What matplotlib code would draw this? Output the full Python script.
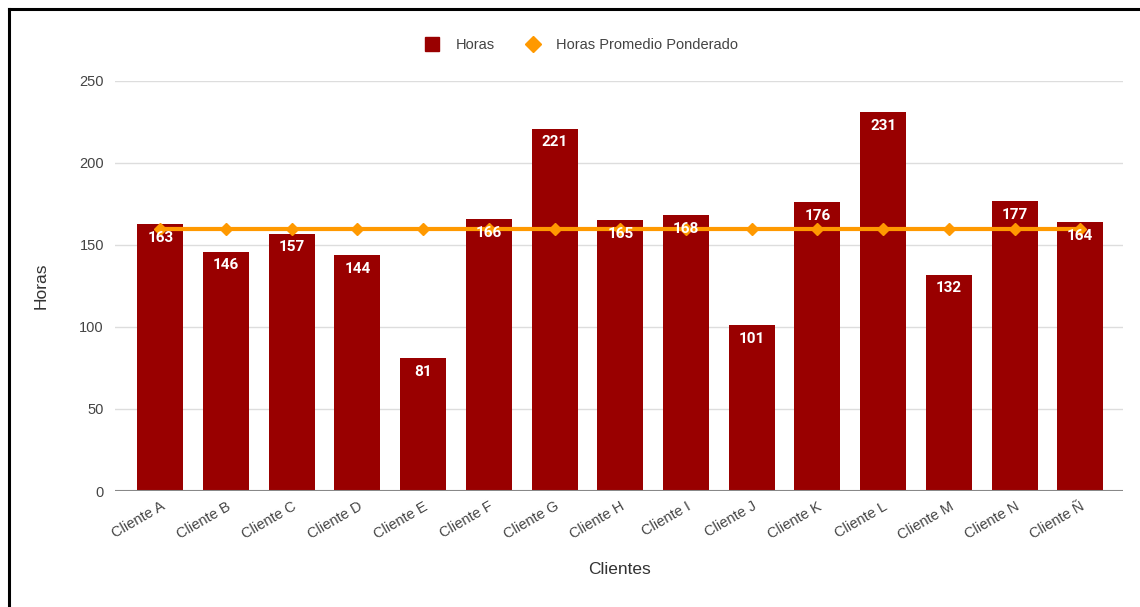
import numpy as np
import matplotlib.pyplot as plt
from matplotlib.lines import Line2D

plt.rcParams['font.family'] = ['Liberation Sans', 'DejaVu Sans']

# Datos
clientes = ['Cliente A', 'Cliente B', 'Cliente C', 'Cliente D', 'Cliente E',
            'Cliente F', 'Cliente G', 'Cliente H', 'Cliente I', 'Cliente J',
            'Cliente K', 'Cliente L', 'Cliente M', 'Cliente N', 'Cliente Ñ']
horas = [163, 146, 157, 144, 81, 166, 221, 165, 168, 101, 176, 231, 132, 177, 164]
promedio = [160] * len(clientes)
y_ticks = [0, 50, 100, 150, 200, 250]

bar_color = '#990000'
line_color = '#ff9900'
text_color = '#444444'

fig = plt.figure(figsize=(11.4, 6.07), dpi=100)
ax = fig.add_axes([0.1009, 0.1911, 0.8842, 0.6755])

x = np.arange(len(clientes))
ax.bar(x, horas, width=0.70, color=bar_color, zorder=2, label='Horas')
ax.plot(x, promedio, color=line_color, linewidth=3, marker='D', markersize=6,
        zorder=3, label='Horas Promedio Ponderado')

for xi, h in zip(x, horas):
    ax.annotate(str(h), (xi, h), xytext=(0, -10), textcoords='offset points',
                ha='center', va='center', color='white', fontsize=11,
                fontweight='bold', family=['Roboto', 'DejaVu Sans'], zorder=4)

ax.set_xlim(-0.69, 14.65)
ax.set_ylim(0, 250)
ax.set_yticks(y_ticks)
ax.set_xticks(x)
ax.set_xticklabels(clientes, rotation=30, ha='right', rotation_mode='anchor',
                   fontsize=10.5, color=text_color)
ax.tick_params(axis='y', labelsize=10.5, labelcolor=text_color, length=0, pad=8)
ax.tick_params(axis='x', length=0, pad=6)

ax.grid(axis='y', color='#dddddd', linewidth=1, zorder=0)
for s in ax.spines.values():
    s.set_visible(False)
ax.axhline(0, color='#888888', linewidth=1.5, zorder=3)

ax.set_ylabel('Horas', fontsize=12.5, color='#333333', labelpad=22)
ax.set_xlabel('Clientes', fontsize=12.5, color='#333333', labelpad=14)

handles = [Line2D([], [], marker='s', color=bar_color, linestyle='none', markersize=10),
           Line2D([], [], marker='D', color=line_color, linestyle='none', markersize=8)]
fig.legend(handles, ['Horas', 'Horas Promedio Ponderado'], loc='center',
           bbox_to_anchor=(0.507, 0.926), ncol=2, frameon=False, fontsize=10.5,
           handletextpad=0.6, columnspacing=1.6, labelcolor=text_color)

# Borde negro de la captura
fig.add_artist(Line2D([9 / 1140, 9 / 1140], [0, 1 - 9 / 607], color='black',
                      linewidth=2.2, transform=fig.transFigure))
fig.add_artist(Line2D([9 / 1140, 1], [1 - 9 / 607, 1 - 9 / 607], color='black',
                      linewidth=2.2, transform=fig.transFigure))

fig.savefig('out.png', dpi=100)
